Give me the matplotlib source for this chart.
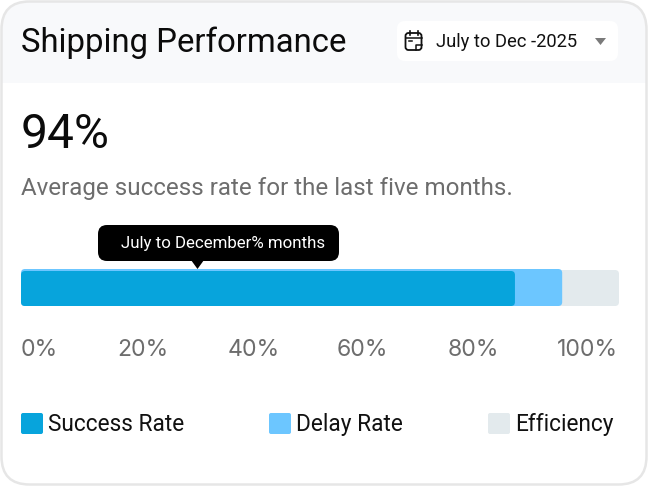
"""Shipping performance card with a stacked progress bar."""

import matplotlib
matplotlib.use("Agg")
import matplotlib.pyplot as plt
from matplotlib.patches import FancyBboxPatch, Polygon, Rectangle

plt.rcParams["font.family"] = ["Roboto", "DejaVu Sans"]

W, H = 648, 486

# bar segments as share of the track, drawn back to front
series_names = ["Efficiency", "Delay Rate", "Success Rate"]
series_values = [100, 90.5, 82.6]
series_colors = ["#e3eaed", "#6cc6ff", "#07a4dc"]

tick_labels = ["0%", "20%", "40%", "60%", "80%", "100%"]
tick_left_px = [21, 117, 228, 337, 448, 557]

legend_names = ["Success Rate", "Delay Rate", "Efficiency"]
legend_colors = ["#07a4dc", "#6cc6ff", "#e3eaed"]
legend_left_px = [21, 269, 488]

fig = plt.figure(figsize=(W / 100, H / 100), dpi=100, facecolor="white")

# Pixel canvas for the card itself
ax = fig.add_axes([0, 0, 1, 1])
ax.set_xlim(0, W)
ax.set_ylim(H, 0)
ax.axis("off")


def rounded(x0, y0, x1, y1, r, color, **kw):
    patch = FancyBboxPatch(
        (x0, y0), x1 - x0, y1 - y0,
        boxstyle=f"round,pad=0,rounding_size={r}",
        facecolor=color, edgecolor=kw.pop("edgecolor", "none"), **kw,
    )
    ax.add_patch(patch)
    return patch


card = rounded(1.5, 1.5, 646.5, 484.5, 28, "white", edgecolor="#e6e6e6", linewidth=1.8, zorder=3)
card.set_facecolor("none")
header = Rectangle((2, 2), 644, 81, facecolor="#f8f9fb", edgecolor="none", zorder=1)
ax.add_patch(header)
header.set_clip_path(card)

ax.text(21, 52, "Shipping Performance", fontsize=23.7, color="#0b0b0b", va="baseline", ha="left")

# Date picker
rounded(397, 21, 618, 61, 8, "white", zorder=2)
ax.text(436, 47, "July to Dec -2025", fontsize=13.2, color="#111111", va="baseline", ha="left", zorder=4)
ax.add_patch(Polygon([[595, 38], [606, 38], [600.5, 45]], closed=True, facecolor="#7a7a7a", zorder=4))

# Calendar icon
rounded(405.5, 33, 421.5, 50, 3, "none", edgecolor="#111111", linewidth=1.3, zorder=4)
ax.plot([405.5, 421.5], [38.5, 38.5], color="#111111", linewidth=1.1, zorder=4)
ax.plot([409.5, 409.5], [31, 35], color="#111111", linewidth=1.2, zorder=4)
ax.plot([417.5, 417.5], [31, 35], color="#111111", linewidth=1.2, zorder=4)
ax.plot([408.5, 412], [41.5, 41.5], color="#111111", linewidth=1.1, zorder=4)
ax.plot([416, 416, 421.5], [50, 45, 45], color="#111111", linewidth=1.1, zorder=4)

ax.text(21, 148, "94%", fontsize=34.5, color="#0b0b0b", va="baseline", ha="left")
ax.text(21, 195, "Average success rate for the last five months.", fontsize=17.35,
        color="#6d6d6d", va="baseline", ha="left")

# Tooltip
rounded(98, 225, 339, 261, 9, "black", zorder=5)
ax.add_patch(Polygon([[191, 260], [204, 260], [197.5, 269]], closed=True, facecolor="black", zorder=5))
ax.text(121, 248, "July to December% months", fontsize=12.2, color="white", va="baseline", ha="left", zorder=6)

# Progress bar on its own percent scale
bar_ax = fig.add_axes([21 / W, 1 - 307 / H, 598 / W, 38 / H])
bar_ax.set_xlim(0, 100)
bar_ax.set_ylim(307, 269)
bar_ax.axis("off")
px_per_unit = 598 / 100
bar_tops = [270, 269, 271]
for value, color, top in zip(series_values, series_colors, bar_tops):
    bar_ax.add_patch(FancyBboxPatch(
        (0, top), value, 306 - top,
        boxstyle=f"round,pad=0,rounding_size={4 / px_per_unit}",
        mutation_aspect=px_per_unit, facecolor=color, edgecolor="none",
    ))

for label, left in zip(tick_labels, tick_left_px):
    ax.text(left, 356, label, fontsize=16.6, color="#6d6d6d", va="baseline", ha="left",
            family=["Inter", "DejaVu Sans"])

for name, color, left in zip(legend_names, legend_colors, legend_left_px):
    rounded(left, 413, left + 22, 434, 2, color)
    ax.text(left + 27, 431, name, fontsize=16.3, color="#111111", va="baseline", ha="left")

fig.savefig("out.png", dpi=100, facecolor="white")
